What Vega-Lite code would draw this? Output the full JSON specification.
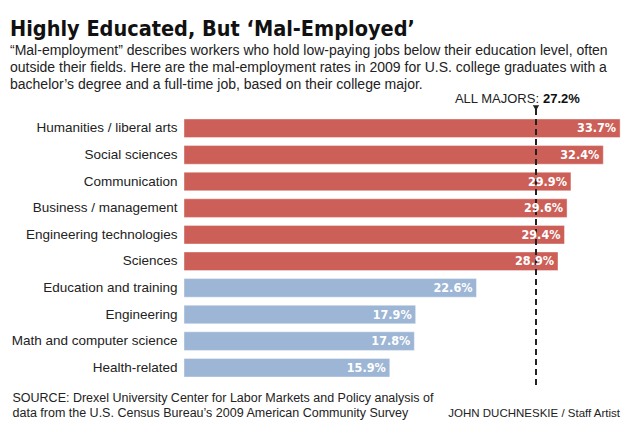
{
  "$schema": "https://vega.github.io/schema/vega-lite/v6.json",
  "autosize": "none",
  "width": 440,
  "height": 266,
  "padding": {"left": 184, "top": 115, "right": 6, "bottom": 49},
  "background": "white",
  "config": {"view": {"stroke": null}, "font": "Liberation Sans"},
  "title": {
    "text": "Highly Educated, But ‘Mal-Employed’",
    "subtitle": [
      "“Mal-employment” describes workers who hold low-paying jobs below their education level, often",
      "outside their fields. Here are the mal-employment rates in 2009 for U.S. college graduates with a",
      "bachelor’s degree and a full-time job, based on their college major."
    ],
    "anchor": "start",
    "frame": "group",
    "dx": -174,
    "offset": 1,
    "font": "DejaVu Sans Condensed",
    "fontSize": 21.5,
    "fontWeight": "bold",
    "color": "#111",
    "subtitleFont": "Liberation Sans",
    "subtitleFontSize": 14,
    "subtitleColor": "#222",
    "subtitleLineHeight": 17,
    "subtitlePadding": 4
  },
  "data": {
    "values": [
      {"major": "Humanities / liberal arts", "rate": 33.7, "group": "above"},
      {"major": "Social sciences", "rate": 32.4, "group": "above"},
      {"major": "Communication", "rate": 29.9, "group": "above"},
      {"major": "Business / management", "rate": 29.6, "group": "above"},
      {"major": "Engineering technologies", "rate": 29.4, "group": "above"},
      {"major": "Sciences", "rate": 28.9, "group": "above"},
      {"major": "Education and training", "rate": 22.6, "group": "below"},
      {"major": "Engineering", "rate": 17.9, "group": "below"},
      {"major": "Math and computer science", "rate": 17.8, "group": "below"},
      {"major": "Health-related", "rate": 15.9, "group": "below"}
    ]
  },
  "encoding": {
    "y": {
      "field": "major",
      "type": "nominal",
      "sort": null,
      "scale": {"paddingInner": 0.3, "paddingOuter": 0.15},
      "axis": {
        "title": null,
        "domain": false,
        "ticks": false,
        "labelFont": "Liberation Sans",
        "labelFontSize": 13.5,
        "labelColor": "#222",
        "labelPadding": 7
      }
    }
  },
  "layer": [
    {
      "mark": {"type": "bar", "stroke": "white", "strokeOpacity": 0.4, "strokeWidth": 1},
      "encoding": {
        "x": {
          "field": "rate",
          "type": "quantitative",
          "scale": {"domain": [0, 34], "nice": false},
          "axis": {
            "domain": false,
            "ticks": false,
            "labels": false,
            "grid": false,
            "title": [
              "SOURCE: Drexel University Center for Labor Markets and Policy analysis of",
              "data from the U.S. Census Bureau’s 2009 American Community Survey"
            ],
            "titleFont": "Liberation Sans",
            "titleFontSize": 12.5,
            "titleFontWeight": "normal",
            "titleColor": "#222",
            "titleAnchor": "start",
            "titleAlign": "left",
            "titleBaseline": "top",
            "titleX": -172,
            "titleY": 10,
            "titleLineHeight": 15
          }
        },
        "color": {
          "field": "group",
          "type": "nominal",
          "scale": {"domain": ["above", "below"], "range": ["#cc5f57", "#9db6d5"]},
          "legend": null
        }
      }
    },
    {
      "data": {"values": [{"all": 27.2}]},
      "layer": [
        {
          "mark": {"type": "rule", "strokeDash": [6, 4], "strokeWidth": 2, "color": "#222"},
          "encoding": {
            "x": {"field": "all", "type": "quantitative"},
            "y": {"value": -6},
            "y2": {"value": 271}
          }
        },
        {
          "mark": {"type": "point", "shape": "triangle-down", "filled": true, "size": 40, "color": "#222", "opacity": 1},
          "encoding": {
            "x": {"field": "all", "type": "quantitative"},
            "y": {"value": -7}
          }
        },
        {
          "mark": {"type": "text", "align": "right", "baseline": "alphabetic", "dx": 3, "fontSize": 13, "color": "#222"},
          "encoding": {
            "x": {"field": "all", "type": "quantitative"},
            "y": {"value": -12},
            "text": {"value": "ALL MAJORS:"}
          }
        },
        {
          "mark": {"type": "text", "align": "left", "baseline": "alphabetic", "dx": 7, "fontSize": 13, "fontWeight": "bold", "color": "#111"},
          "encoding": {
            "x": {"field": "all", "type": "quantitative"},
            "y": {"value": -12},
            "text": {"value": "27.2%"}
          }
        },
        {
          "mark": {"type": "text", "align": "right", "baseline": "alphabetic", "dx": -4, "fontSize": 11.5, "color": "#222"},
          "encoding": {
            "x": {"datum": 34},
            "y": {"value": 302},
            "text": {"value": "JOHN DUCHNESKIE / Staff Artist"}
          }
        }
      ]
    },
    {
      "mark": {
        "type": "text",
        "align": "right",
        "dx": -4,
        "font": "DejaVu Sans Condensed",
        "fontSize": 12.5,
        "fontWeight": "bold",
        "color": "white",
        "text": {"expr": "format(datum.rate, '.1f') + '%'"}
      },
      "encoding": {
        "x": {"field": "rate", "type": "quantitative"}
      }
    }
  ]
}
